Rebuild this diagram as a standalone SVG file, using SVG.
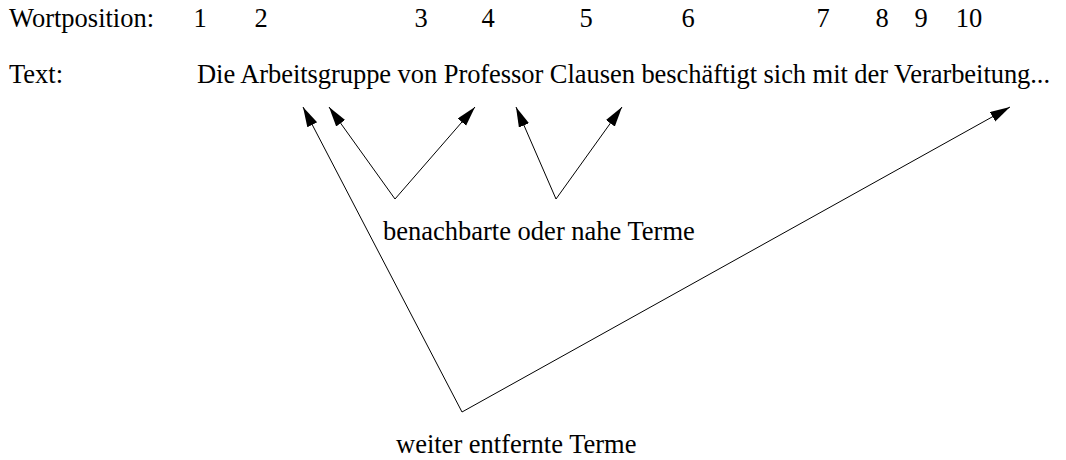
<svg xmlns="http://www.w3.org/2000/svg" width="1066" height="460" viewBox="0 0 1066 460">
<style>
text { font-family: "Liberation Serif", "Times New Roman", serif; font-size: 26.5px; fill: #000; }
.conn line { stroke: #000; stroke-width: 1; fill: none; }
</style>
<defs>
<marker id="ah" markerUnits="userSpaceOnUse" markerWidth="22" markerHeight="12" refX="20" refY="5.5" orient="auto">
<path d="M0,0 L20,5.5 L0,11 Z" fill="#000"/>
</marker>
</defs>
<rect width="1066" height="460" fill="#fff"/>
<g id="row-wortposition">
<text x="9" y="27">Wortposition:</text>
<text x="200" y="27" text-anchor="middle">1</text>
<text x="261" y="27" text-anchor="middle">2</text>
<text x="421" y="27" text-anchor="middle">3</text>
<text x="488" y="27" text-anchor="middle">4</text>
<text x="586" y="27" text-anchor="middle">5</text>
<text x="688" y="27" text-anchor="middle">6</text>
<text x="823" y="27" text-anchor="middle">7</text>
<text x="882" y="27" text-anchor="middle">8</text>
<text x="921" y="27" text-anchor="middle">9</text>
<text x="969" y="27" text-anchor="middle">10</text>
</g>
<g id="row-text">
<text x="9" y="83">Text:</text>
<text x="197" y="83" textLength="853">Die Arbeitsgruppe von Professor Clausen beschäftigt sich mit der Verarbeitung...</text>
</g>
<g id="label-nahe">
<text x="383" y="240">benachbarte oder nahe Terme</text>
</g>
<g id="label-entfernt">
<text x="396" y="453">weiter entfernte Terme</text>
</g>
<g id="connectors" class="conn">
<line x1="395" y1="199" x2="329" y2="107" marker-end="url(#ah)"/>
<line x1="395" y1="199" x2="475" y2="107" marker-end="url(#ah)"/>
<line x1="556" y1="199" x2="516" y2="107" marker-end="url(#ah)"/>
<line x1="556" y1="199" x2="622" y2="107" marker-end="url(#ah)"/>
<line x1="462" y1="412" x2="303" y2="107" marker-end="url(#ah)"/>
<line x1="462" y1="412" x2="1010" y2="107" marker-end="url(#ah)"/>
</g>
</svg>
